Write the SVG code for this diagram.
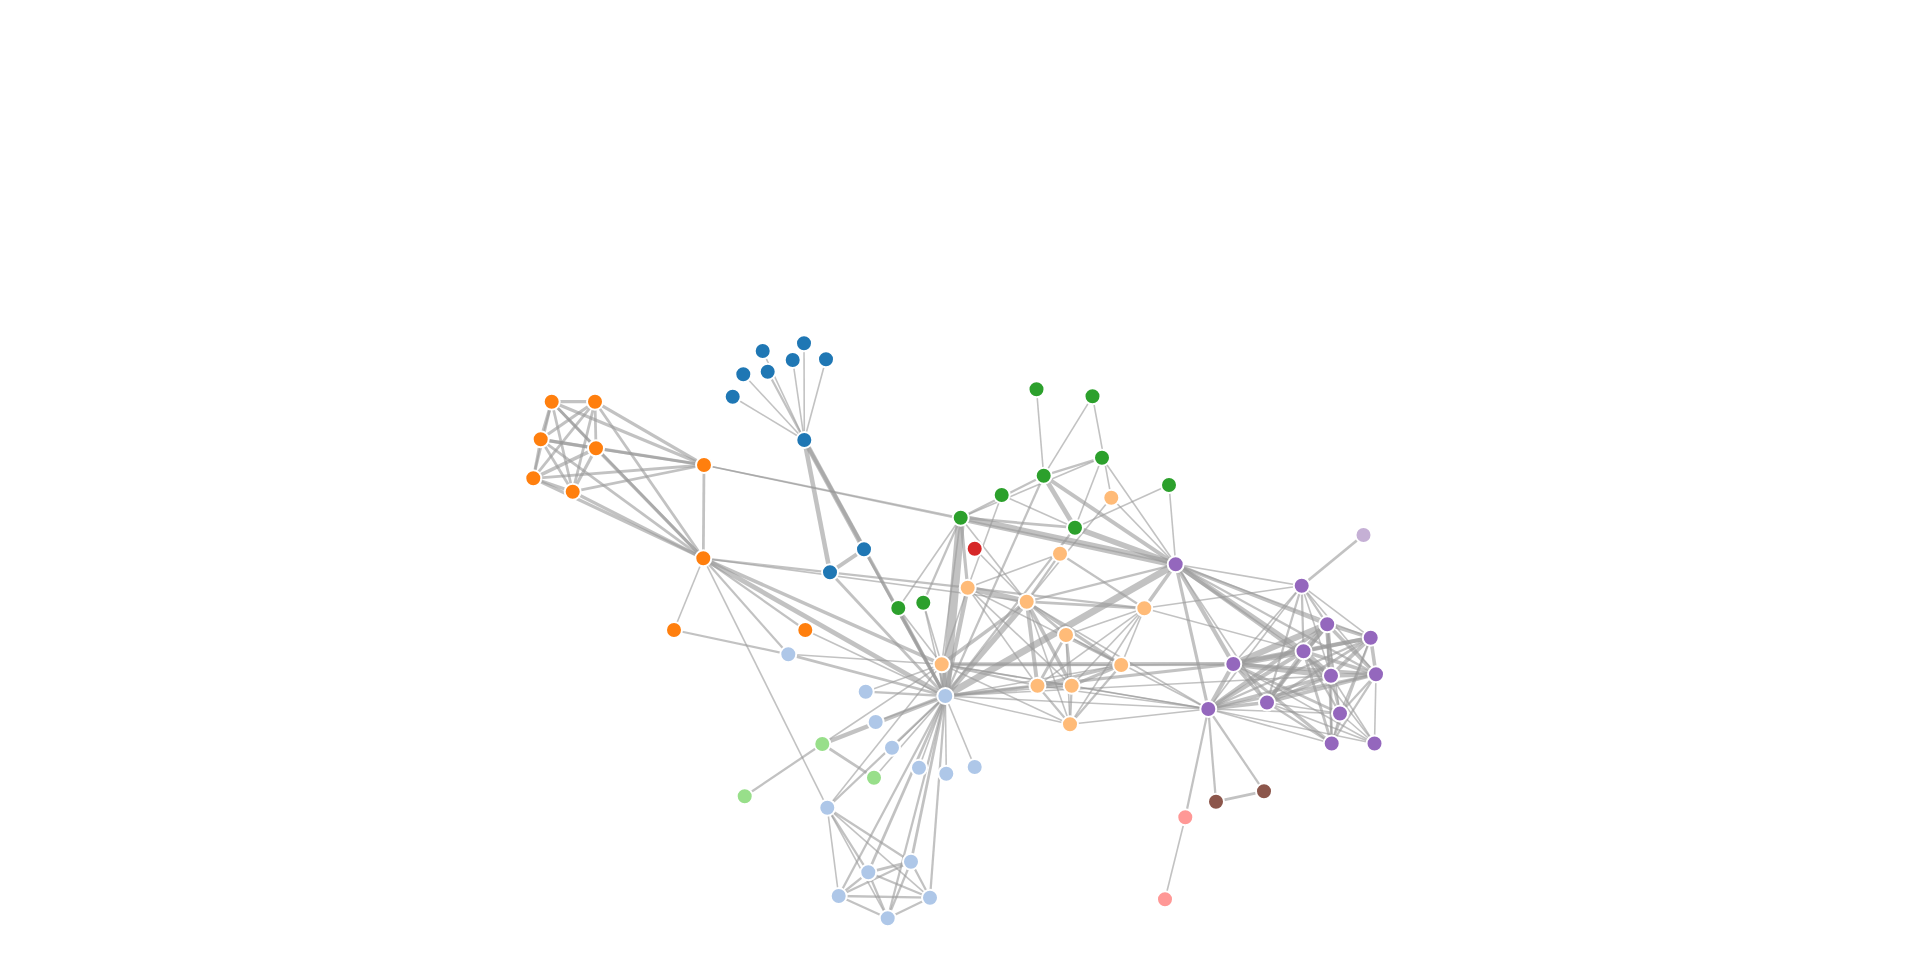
<svg xmlns="http://www.w3.org/2000/svg" width="1920" height="956" viewBox="0 0 1920 956">
<style>
.links line{stroke:#999;stroke-opacity:.6;fill:none}
.v1{stroke-width:1.6}.v2{stroke-width:2.26}.v3{stroke-width:2.77}.v4{stroke-width:3.2}.v5{stroke-width:3.58}.v6{stroke-width:3.92}.v7{stroke-width:4.23}.v8{stroke-width:4.53}.v9{stroke-width:4.8}.v10{stroke-width:5.06}.v12{stroke-width:5.54}.v13{stroke-width:5.77}.v15{stroke-width:6.2}.v17{stroke-width:6.6}.v19{stroke-width:6.97}.v21{stroke-width:7.33}.v31{stroke-width:8.91}
.node circle{stroke:#fff;stroke-width:2}
.g0{fill:#98df8a}.g1{fill:#1f77b4}.g2{fill:#aec7e8}.g3{fill:#ff7f0e}.g4{fill:#ffbb78}.g5{fill:#2ca02c}.g6{fill:#d62728}.g7{fill:#ff9896}.g8{fill:#9467bd}.g9{fill:#c5b0d5}.g10{fill:#8c564b}
</style>
<rect width="1920" height="956" fill="#fff"/>
<g id="links" class="links">
<line class="v1" x1="732.7" y1="396.7" x2="804.3" y2="440"/>
<line class="v8" x1="830" y1="572.3" x2="804.3" y2="440"/>
<line class="v10" x1="864" y1="549.3" x2="804.3" y2="440"/>
<line class="v6" x1="864" y1="549.3" x2="830" y2="572.3"/>
<line class="v1" x1="743.3" y1="374.3" x2="804.3" y2="440"/>
<line class="v1" x1="762.7" y1="351" x2="804.3" y2="440"/>
<line class="v1" x1="792.7" y1="360" x2="804.3" y2="440"/>
<line class="v1" x1="804" y1="343.3" x2="804.3" y2="440"/>
<line class="v2" x1="767.7" y1="371.7" x2="804.3" y2="440"/>
<line class="v1" x1="826" y1="359.3" x2="804.3" y2="440"/>
<line class="v1" x1="945.3" y1="696" x2="892" y2="747.7"/>
<line class="v3" x1="945.3" y1="696" x2="864" y2="549.3"/>
<line class="v3" x1="945.3" y1="696" x2="830" y2="572.3"/>
<line class="v5" x1="945.3" y1="696" x2="804.3" y2="440"/>
<line class="v1" x1="805.3" y1="630" x2="945.3" y2="696"/>
<line class="v1" x1="919" y1="767.7" x2="945.3" y2="696"/>
<line class="v1" x1="946.3" y1="773.7" x2="945.3" y2="696"/>
<line class="v1" x1="974.7" y1="767" x2="945.3" y2="696"/>
<line class="v4" x1="551.7" y1="401.7" x2="704" y2="465"/>
<line class="v4" x1="595" y1="401.7" x2="704" y2="465"/>
<line class="v4" x1="595" y1="401.7" x2="551.7" y2="401.7"/>
<line class="v4" x1="540.7" y1="439.3" x2="704" y2="465"/>
<line class="v4" x1="540.7" y1="439.3" x2="551.7" y2="401.7"/>
<line class="v4" x1="540.7" y1="439.3" x2="595" y2="401.7"/>
<line class="v3" x1="596" y1="448.3" x2="704" y2="465"/>
<line class="v3" x1="596" y1="448.3" x2="551.7" y2="401.7"/>
<line class="v3" x1="596" y1="448.3" x2="595" y2="401.7"/>
<line class="v4" x1="596" y1="448.3" x2="540.7" y2="439.3"/>
<line class="v3" x1="533.3" y1="478.3" x2="704" y2="465"/>
<line class="v3" x1="533.3" y1="478.3" x2="551.7" y2="401.7"/>
<line class="v3" x1="533.3" y1="478.3" x2="595" y2="401.7"/>
<line class="v3" x1="533.3" y1="478.3" x2="540.7" y2="439.3"/>
<line class="v5" x1="533.3" y1="478.3" x2="596" y2="448.3"/>
<line class="v3" x1="572.7" y1="491.7" x2="704" y2="465"/>
<line class="v3" x1="572.7" y1="491.7" x2="551.7" y2="401.7"/>
<line class="v3" x1="572.7" y1="491.7" x2="595" y2="401.7"/>
<line class="v3" x1="572.7" y1="491.7" x2="540.7" y2="439.3"/>
<line class="v4" x1="572.7" y1="491.7" x2="596" y2="448.3"/>
<line class="v4" x1="572.7" y1="491.7" x2="533.3" y2="478.3"/>
<line class="v3" x1="703.3" y1="558.3" x2="704" y2="465"/>
<line class="v3" x1="703.3" y1="558.3" x2="551.7" y2="401.7"/>
<line class="v3" x1="703.3" y1="558.3" x2="595" y2="401.7"/>
<line class="v3" x1="703.3" y1="558.3" x2="540.7" y2="439.3"/>
<line class="v4" x1="703.3" y1="558.3" x2="596" y2="448.3"/>
<line class="v4" x1="703.3" y1="558.3" x2="533.3" y2="478.3"/>
<line class="v4" x1="703.3" y1="558.3" x2="572.7" y2="491.7"/>
<line class="v2" x1="703.3" y1="558.3" x2="805.3" y2="630"/>
<line class="v9" x1="703.3" y1="558.3" x2="945.3" y2="696"/>
<line class="v2" x1="967.7" y1="587.7" x2="703.3" y2="558.3"/>
<line class="v7" x1="967.7" y1="587.7" x2="945.3" y2="696"/>
<line class="v13" x1="1026.7" y1="601.7" x2="967.7" y2="587.7"/>
<line class="v1" x1="1026.7" y1="601.7" x2="703.3" y2="558.3"/>
<line class="v12" x1="1026.7" y1="601.7" x2="945.3" y2="696"/>
<line class="v4" x1="960.7" y1="517.7" x2="967.7" y2="587.7"/>
<line class="v31" x1="960.7" y1="517.7" x2="945.3" y2="696"/>
<line class="v1" x1="960.7" y1="517.7" x2="704" y2="465"/>
<line class="v1" x1="960.7" y1="517.7" x2="1026.7" y2="601.7"/>
<line class="v17" x1="941.7" y1="664.3" x2="945.3" y2="696"/>
<line class="v5" x1="941.7" y1="664.3" x2="703.3" y2="558.3"/>
<line class="v5" x1="941.7" y1="664.3" x2="1026.7" y2="601.7"/>
<line class="v1" x1="941.7" y1="664.3" x2="967.7" y2="587.7"/>
<line class="v1" x1="941.7" y1="664.3" x2="960.7" y2="517.7"/>
<line class="v8" x1="822.3" y1="744" x2="945.3" y2="696"/>
<line class="v1" x1="822.3" y1="744" x2="941.7" y2="664.3"/>
<line class="v1" x1="827.3" y1="807.7" x2="703.3" y2="558.3"/>
<line class="v1" x1="827.3" y1="807.7" x2="941.7" y2="664.3"/>
<line class="v2" x1="827.3" y1="807.7" x2="945.3" y2="696"/>
<line class="v1" x1="674" y1="630" x2="703.3" y2="558.3"/>
<line class="v2" x1="788.3" y1="654.3" x2="674" y2="630"/>
<line class="v3" x1="788.3" y1="654.3" x2="945.3" y2="696"/>
<line class="v2" x1="788.3" y1="654.3" x2="703.3" y2="558.3"/>
<line class="v1" x1="788.3" y1="654.3" x2="941.7" y2="664.3"/>
<line class="v1" x1="875.7" y1="722" x2="945.3" y2="696"/>
<line class="v2" x1="865.7" y1="691.7" x2="945.3" y2="696"/>
<line class="v1" x1="865.7" y1="691.7" x2="941.7" y2="664.3"/>
<line class="v3" x1="868.3" y1="872.3" x2="945.3" y2="696"/>
<line class="v2" x1="868.3" y1="872.3" x2="827.3" y2="807.7"/>
<line class="v3" x1="911" y1="861.7" x2="945.3" y2="696"/>
<line class="v3" x1="911" y1="861.7" x2="868.3" y2="872.3"/>
<line class="v2" x1="911" y1="861.7" x2="827.3" y2="807.7"/>
<line class="v2" x1="838.7" y1="896" x2="868.3" y2="872.3"/>
<line class="v2" x1="838.7" y1="896" x2="911" y2="861.7"/>
<line class="v2" x1="838.7" y1="896" x2="945.3" y2="696"/>
<line class="v1" x1="838.7" y1="896" x2="827.3" y2="807.7"/>
<line class="v2" x1="930" y1="897.7" x2="868.3" y2="872.3"/>
<line class="v2" x1="930" y1="897.7" x2="911" y2="861.7"/>
<line class="v2" x1="930" y1="897.7" x2="838.7" y2="896"/>
<line class="v2" x1="930" y1="897.7" x2="945.3" y2="696"/>
<line class="v1" x1="930" y1="897.7" x2="827.3" y2="807.7"/>
<line class="v2" x1="887.7" y1="918.3" x2="868.3" y2="872.3"/>
<line class="v2" x1="887.7" y1="918.3" x2="911" y2="861.7"/>
<line class="v2" x1="887.7" y1="918.3" x2="838.7" y2="896"/>
<line class="v2" x1="887.7" y1="918.3" x2="930" y2="897.7"/>
<line class="v2" x1="887.7" y1="918.3" x2="945.3" y2="696"/>
<line class="v1" x1="887.7" y1="918.3" x2="827.3" y2="807.7"/>
<line class="v1" x1="1111.3" y1="497.7" x2="1026.7" y2="601.7"/>
<line class="v1" x1="974.7" y1="548.7" x2="1026.7" y2="601.7"/>
<line class="v2" x1="1144.3" y1="608.3" x2="967.7" y2="587.7"/>
<line class="v3" x1="1144.3" y1="608.3" x2="1026.7" y2="601.7"/>
<line class="v2" x1="1060" y1="553.7" x2="1144.3" y2="608.3"/>
<line class="v2" x1="1060" y1="553.7" x2="1026.7" y2="601.7"/>
<line class="v1" x1="1060" y1="553.7" x2="967.7" y2="587.7"/>
<line class="v3" x1="898.3" y1="608" x2="945.3" y2="696"/>
<line class="v1" x1="898.3" y1="608" x2="960.7" y2="517.7"/>
<line class="v1" x1="898.3" y1="608" x2="941.7" y2="664.3"/>
<line class="v3" x1="874" y1="777.7" x2="822.3" y2="744"/>
<line class="v1" x1="874" y1="777.7" x2="945.3" y2="696"/>
<line class="v2" x1="744.7" y1="796.3" x2="822.3" y2="744"/>
<line class="v1" x1="1185.3" y1="817.3" x2="1165" y2="899.3"/>
<line class="v2" x1="1208.3" y1="709" x2="1185.3" y2="817.3"/>
<line class="v1" x1="1208.3" y1="709" x2="1026.7" y2="601.7"/>
<line class="v1" x1="1208.3" y1="709" x2="941.7" y2="664.3"/>
<line class="v1" x1="1208.3" y1="709" x2="945.3" y2="696"/>
<line class="v3" x1="1075" y1="527.7" x2="960.7" y2="517.7"/>
<line class="v2" x1="1075" y1="527.7" x2="945.3" y2="696"/>
<line class="v1" x1="1001.7" y1="495" x2="1075" y2="527.7"/>
<line class="v1" x1="1001.7" y1="495" x2="967.7" y2="587.7"/>
<line class="v9" x1="1043.7" y1="475.7" x2="1075" y2="527.7"/>
<line class="v2" x1="1043.7" y1="475.7" x2="960.7" y2="517.7"/>
<line class="v2" x1="1043.7" y1="475.7" x2="945.3" y2="696"/>
<line class="v1" x1="1092.5" y1="396.3" x2="1043.7" y2="475.7"/>
<line class="v1" x1="1092.5" y1="396.3" x2="1111.3" y2="497.7"/>
<line class="v1" x1="1036.5" y1="389.3" x2="1043.7" y2="475.7"/>
<line class="v2" x1="1102" y1="457.7" x2="1043.7" y2="475.7"/>
<line class="v1" x1="1102" y1="457.7" x2="1075" y2="527.7"/>
<line class="v1" x1="1102" y1="457.7" x2="960.7" y2="517.7"/>
<line class="v6" x1="1175.7" y1="564.3" x2="1043.7" y2="475.7"/>
<line class="v12" x1="1175.7" y1="564.3" x2="1075" y2="527.7"/>
<line class="v1" x1="1175.7" y1="564.3" x2="1111.3" y2="497.7"/>
<line class="v1" x1="1175.7" y1="564.3" x2="1102" y2="457.7"/>
<line class="v21" x1="1175.7" y1="564.3" x2="960.7" y2="517.7"/>
<line class="v19" x1="1175.7" y1="564.3" x2="945.3" y2="696"/>
<line class="v1" x1="1175.7" y1="564.3" x2="704" y2="465"/>
<line class="v2" x1="1175.7" y1="564.3" x2="1026.7" y2="601.7"/>
<line class="v5" x1="1175.7" y1="564.3" x2="1144.3" y2="608.3"/>
<line class="v4" x1="1175.7" y1="564.3" x2="1208.3" y2="709"/>
<line class="v1" x1="1169" y1="485" x2="1075" y2="527.7"/>
<line class="v1" x1="1169" y1="485" x2="1175.7" y2="564.3"/>
<line class="v1" x1="1301.7" y1="585.7" x2="1175.7" y2="564.3"/>
<line class="v1" x1="1301.7" y1="585.7" x2="1144.3" y2="608.3"/>
<line class="v1" x1="1301.7" y1="585.7" x2="1208.3" y2="709"/>
<line class="v7" x1="1233.3" y1="664" x2="1175.7" y2="564.3"/>
<line class="v7" x1="1233.3" y1="664" x2="1208.3" y2="709"/>
<line class="v6" x1="1233.3" y1="664" x2="941.7" y2="664.3"/>
<line class="v1" x1="1233.3" y1="664" x2="1301.7" y2="585.7"/>
<line class="v4" x1="1233.3" y1="664" x2="945.3" y2="696"/>
<line class="v15" x1="1327.2" y1="624.3" x2="1233.3" y2="664"/>
<line class="v5" x1="1327.2" y1="624.3" x2="1175.7" y2="564.3"/>
<line class="v6" x1="1327.2" y1="624.3" x2="1208.3" y2="709"/>
<line class="v2" x1="1327.2" y1="624.3" x2="1301.7" y2="585.7"/>
<line class="v1" x1="1331.7" y1="743.5" x2="1208.3" y2="709"/>
<line class="v4" x1="1331.7" y1="743.5" x2="1233.3" y2="664"/>
<line class="v2" x1="1331.7" y1="743.5" x2="1327.2" y2="624.3"/>
<line class="v2" x1="1370.7" y1="637.7" x2="1208.3" y2="709"/>
<line class="v6" x1="1370.7" y1="637.7" x2="1233.3" y2="664"/>
<line class="v2" x1="1370.7" y1="637.7" x2="1331.7" y2="743.5"/>
<line class="v5" x1="1370.7" y1="637.7" x2="1327.2" y2="624.3"/>
<line class="v1" x1="1370.7" y1="637.7" x2="1301.7" y2="585.7"/>
<line class="v1" x1="1370.7" y1="637.7" x2="1175.7" y2="564.3"/>
<line class="v9" x1="1303.5" y1="651.3" x2="1175.7" y2="564.3"/>
<line class="v17" x1="1303.5" y1="651.3" x2="1233.3" y2="664"/>
<line class="v13" x1="1303.5" y1="651.3" x2="1327.2" y2="624.3"/>
<line class="v7" x1="1303.5" y1="651.3" x2="1208.3" y2="709"/>
<line class="v2" x1="1303.5" y1="651.3" x2="1301.7" y2="585.7"/>
<line class="v1" x1="1303.5" y1="651.3" x2="1144.3" y2="608.3"/>
<line class="v6" x1="1303.5" y1="651.3" x2="1370.7" y2="637.7"/>
<line class="v3" x1="1303.5" y1="651.3" x2="1331.7" y2="743.5"/>
<line class="v5" x1="1267" y1="702.5" x2="1327.2" y2="624.3"/>
<line class="v5" x1="1267" y1="702.5" x2="1208.3" y2="709"/>
<line class="v6" x1="1267" y1="702.5" x2="1303.5" y2="651.3"/>
<line class="v2" x1="1267" y1="702.5" x2="1301.7" y2="585.7"/>
<line class="v4" x1="1267" y1="702.5" x2="1233.3" y2="664"/>
<line class="v3" x1="1267" y1="702.5" x2="1370.7" y2="637.7"/>
<line class="v2" x1="1267" y1="702.5" x2="1331.7" y2="743.5"/>
<line class="v1" x1="1267" y1="702.5" x2="1175.7" y2="564.3"/>
<line class="v5" x1="1331" y1="675.7" x2="1175.7" y2="564.3"/>
<line class="v12" x1="1331" y1="675.7" x2="1303.5" y2="651.3"/>
<line class="v5" x1="1331" y1="675.7" x2="1208.3" y2="709"/>
<line class="v4" x1="1331" y1="675.7" x2="1267" y2="702.5"/>
<line class="v10" x1="1331" y1="675.7" x2="1233.3" y2="664"/>
<line class="v6" x1="1331" y1="675.7" x2="1370.7" y2="637.7"/>
<line class="v2" x1="1331" y1="675.7" x2="1331.7" y2="743.5"/>
<line class="v9" x1="1331" y1="675.7" x2="1327.2" y2="624.3"/>
<line class="v1" x1="1331" y1="675.7" x2="1301.7" y2="585.7"/>
<line class="v1" x1="1331" y1="675.7" x2="945.3" y2="696"/>
<line class="v5" x1="1376" y1="674.3" x2="1267" y2="702.5"/>
<line class="v7" x1="1376" y1="674.3" x2="1331" y2="675.7"/>
<line class="v3" x1="1376" y1="674.3" x2="1208.3" y2="709"/>
<line class="v5" x1="1376" y1="674.3" x2="1303.5" y2="651.3"/>
<line class="v5" x1="1376" y1="674.3" x2="1233.3" y2="664"/>
<line class="v5" x1="1376" y1="674.3" x2="1370.7" y2="637.7"/>
<line class="v2" x1="1376" y1="674.3" x2="1331.7" y2="743.5"/>
<line class="v5" x1="1376" y1="674.3" x2="1327.2" y2="624.3"/>
<line class="v1" x1="1376" y1="674.3" x2="1301.7" y2="585.7"/>
<line class="v2" x1="1376" y1="674.3" x2="1175.7" y2="564.3"/>
<line class="v3" x1="1340" y1="713.5" x2="1331" y2="675.7"/>
<line class="v3" x1="1340" y1="713.5" x2="1233.3" y2="664"/>
<line class="v1" x1="1340" y1="713.5" x2="1327.2" y2="624.3"/>
<line class="v2" x1="1340" y1="713.5" x2="1303.5" y2="651.3"/>
<line class="v2" x1="1340" y1="713.5" x2="1376" y2="674.3"/>
<line class="v1" x1="1340" y1="713.5" x2="1208.3" y2="709"/>
<line class="v1" x1="1340" y1="713.5" x2="1267" y2="702.5"/>
<line class="v1" x1="1340" y1="713.5" x2="1370.7" y2="637.7"/>
<line class="v1" x1="1340" y1="713.5" x2="1331.7" y2="743.5"/>
<line class="v3" x1="1363.5" y1="535" x2="1301.7" y2="585.7"/>
<line class="v5" x1="1071.7" y1="685.7" x2="1026.7" y2="601.7"/>
<line class="v1" x1="1071.7" y1="685.7" x2="945.3" y2="696"/>
<line class="v1" x1="1071.7" y1="685.7" x2="967.7" y2="587.7"/>
<line class="v1" x1="1071.7" y1="685.7" x2="941.7" y2="664.3"/>
<line class="v1" x1="1071.7" y1="685.7" x2="1208.3" y2="709"/>
<line class="v1" x1="1071.7" y1="685.7" x2="1144.3" y2="608.3"/>
<line class="v6" x1="1037.5" y1="685.7" x2="1026.7" y2="601.7"/>
<line class="v6" x1="1037.5" y1="685.7" x2="1071.7" y2="685.7"/>
<line class="v1" x1="1037.5" y1="685.7" x2="945.3" y2="696"/>
<line class="v1" x1="1037.5" y1="685.7" x2="967.7" y2="587.7"/>
<line class="v2" x1="1037.5" y1="685.7" x2="941.7" y2="664.3"/>
<line class="v1" x1="1037.5" y1="685.7" x2="1208.3" y2="709"/>
<line class="v1" x1="1037.5" y1="685.7" x2="1144.3" y2="608.3"/>
<line class="v4" x1="1121.2" y1="665" x2="1026.7" y2="601.7"/>
<line class="v4" x1="1121.2" y1="665" x2="1037.5" y2="685.7"/>
<line class="v4" x1="1121.2" y1="665" x2="1071.7" y2="685.7"/>
<line class="v1" x1="1121.2" y1="665" x2="945.3" y2="696"/>
<line class="v1" x1="1121.2" y1="665" x2="967.7" y2="587.7"/>
<line class="v1" x1="1121.2" y1="665" x2="941.7" y2="664.3"/>
<line class="v1" x1="1121.2" y1="665" x2="1144.3" y2="608.3"/>
<line class="v1" x1="1121.2" y1="665" x2="1233.3" y2="664"/>
<line class="v1" x1="1070" y1="724.3" x2="941.7" y2="664.3"/>
<line class="v2" x1="1070" y1="724.3" x2="1037.5" y2="685.7"/>
<line class="v2" x1="1070" y1="724.3" x2="1071.7" y2="685.7"/>
<line class="v2" x1="1070" y1="724.3" x2="1121.2" y2="665"/>
<line class="v1" x1="1070" y1="724.3" x2="945.3" y2="696"/>
<line class="v1" x1="1070" y1="724.3" x2="1208.3" y2="709"/>
<line class="v1" x1="1070" y1="724.3" x2="1144.3" y2="608.3"/>
<line class="v1" x1="1070" y1="724.3" x2="1026.7" y2="601.7"/>
<line class="v2" x1="923.3" y1="602.7" x2="960.7" y2="517.7"/>
<line class="v1" x1="923.3" y1="602.7" x2="941.7" y2="664.3"/>
<line class="v1" x1="923.3" y1="602.7" x2="945.3" y2="696"/>
<line class="v2" x1="1216" y1="801.7" x2="1208.3" y2="709"/>
<line class="v2" x1="1264" y1="791.3" x2="1208.3" y2="709"/>
<line class="v3" x1="1264" y1="791.3" x2="1216" y2="801.7"/>
<line class="v3" x1="1066" y1="635" x2="1037.5" y2="685.7"/>
<line class="v3" x1="1066" y1="635" x2="1071.7" y2="685.7"/>
<line class="v3" x1="1066" y1="635" x2="1026.7" y2="601.7"/>
<line class="v1" x1="1066" y1="635" x2="1208.3" y2="709"/>
<line class="v1" x1="1066" y1="635" x2="1144.3" y2="608.3"/>
<line class="v1" x1="1066" y1="635" x2="1121.2" y2="665"/>
<line class="v1" x1="1066" y1="635" x2="1070" y2="724.3"/>
<line class="v1" x1="1374.5" y1="743.5" x2="1331" y2="675.7"/>
<line class="v1" x1="1374.5" y1="743.5" x2="1376" y2="674.3"/>
<line class="v1" x1="1374.5" y1="743.5" x2="1340" y2="713.5"/>
<line class="v1" x1="1374.5" y1="743.5" x2="1267" y2="702.5"/>
<line class="v1" x1="1374.5" y1="743.5" x2="1303.5" y2="651.3"/>
<line class="v1" x1="1374.5" y1="743.5" x2="1208.3" y2="709"/>
<line class="v1" x1="1374.5" y1="743.5" x2="1233.3" y2="664"/>
</g>
<g id="nodes">
<g id="Myriel" class="node"><circle class="g1" cx="804.3" cy="440" r="8"/></g>
<g id="Napoleon" class="node"><circle class="g1" cx="732.7" cy="396.7" r="8"/></g>
<g id="Mlle-Baptistine" class="node"><circle class="g1" cx="830" cy="572.3" r="8"/></g>
<g id="Mme-Magloire" class="node"><circle class="g1" cx="864" cy="549.3" r="8"/></g>
<g id="CountessdeLo" class="node"><circle class="g1" cx="743.3" cy="374.3" r="8"/></g>
<g id="Geborand" class="node"><circle class="g1" cx="762.7" cy="351" r="8"/></g>
<g id="Champtercier" class="node"><circle class="g1" cx="792.7" cy="360" r="8"/></g>
<g id="Cravatte" class="node"><circle class="g1" cx="804" cy="343.3" r="8"/></g>
<g id="Count" class="node"><circle class="g1" cx="767.7" cy="371.7" r="8"/></g>
<g id="OldMan" class="node"><circle class="g1" cx="826" cy="359.3" r="8"/></g>
<g id="Labarre" class="node"><circle class="g2" cx="892" cy="747.7" r="8"/></g>
<g id="Valjean" class="node"><circle class="g2" cx="945.3" cy="696" r="8"/></g>
<g id="Marguerite" class="node"><circle class="g3" cx="805.3" cy="630" r="8"/></g>
<g id="Mme-deR" class="node"><circle class="g2" cx="919" cy="767.7" r="8"/></g>
<g id="Isabeau" class="node"><circle class="g2" cx="946.3" cy="773.7" r="8"/></g>
<g id="Gervais" class="node"><circle class="g2" cx="974.7" cy="767" r="8"/></g>
<g id="Tholomyes" class="node"><circle class="g3" cx="704" cy="465" r="8"/></g>
<g id="Listolier" class="node"><circle class="g3" cx="551.7" cy="401.7" r="8"/></g>
<g id="Fameuil" class="node"><circle class="g3" cx="595" cy="401.7" r="8"/></g>
<g id="Blacheville" class="node"><circle class="g3" cx="540.7" cy="439.3" r="8"/></g>
<g id="Favourite" class="node"><circle class="g3" cx="596" cy="448.3" r="8"/></g>
<g id="Dahlia" class="node"><circle class="g3" cx="533.3" cy="478.3" r="8"/></g>
<g id="Zephine" class="node"><circle class="g3" cx="572.7" cy="491.7" r="8"/></g>
<g id="Fantine" class="node"><circle class="g3" cx="703.3" cy="558.3" r="8"/></g>
<g id="Mme-Thenardier" class="node"><circle class="g4" cx="967.7" cy="587.7" r="8"/></g>
<g id="Thenardier" class="node"><circle class="g4" cx="1026.7" cy="601.7" r="8"/></g>
<g id="Cosette" class="node"><circle class="g5" cx="960.7" cy="517.7" r="8"/></g>
<g id="Javert" class="node"><circle class="g4" cx="941.7" cy="664.3" r="8"/></g>
<g id="Fauchelevent" class="node"><circle class="g0" cx="822.3" cy="744" r="8"/></g>
<g id="Bamatabois" class="node"><circle class="g2" cx="827.3" cy="807.7" r="8"/></g>
<g id="Perpetue" class="node"><circle class="g3" cx="674" cy="630" r="8"/></g>
<g id="Simplice" class="node"><circle class="g2" cx="788.3" cy="654.3" r="8"/></g>
<g id="Scaufflaire" class="node"><circle class="g2" cx="875.7" cy="722" r="8"/></g>
<g id="Woman1" class="node"><circle class="g2" cx="865.7" cy="691.7" r="8"/></g>
<g id="Judge" class="node"><circle class="g2" cx="868.3" cy="872.3" r="8"/></g>
<g id="Champmathieu" class="node"><circle class="g2" cx="911" cy="861.7" r="8"/></g>
<g id="Brevet" class="node"><circle class="g2" cx="838.7" cy="896" r="8"/></g>
<g id="Chenildieu" class="node"><circle class="g2" cx="930" cy="897.7" r="8"/></g>
<g id="Cochepaille" class="node"><circle class="g2" cx="887.7" cy="918.3" r="8"/></g>
<g id="Pontmercy" class="node"><circle class="g4" cx="1111.3" cy="497.7" r="8"/></g>
<g id="Boulatruelle" class="node"><circle class="g6" cx="974.7" cy="548.7" r="8"/></g>
<g id="Eponine" class="node"><circle class="g4" cx="1144.3" cy="608.3" r="8"/></g>
<g id="Anzelma" class="node"><circle class="g4" cx="1060" cy="553.7" r="8"/></g>
<g id="Woman2" class="node"><circle class="g5" cx="898.3" cy="608" r="8"/></g>
<g id="MotherInnocent" class="node"><circle class="g0" cx="874" cy="777.7" r="8"/></g>
<g id="Gribier" class="node"><circle class="g0" cx="744.7" cy="796.3" r="8"/></g>
<g id="Jondrette" class="node"><circle class="g7" cx="1165" cy="899.3" r="8"/></g>
<g id="Mme-Burgon" class="node"><circle class="g7" cx="1185.3" cy="817.3" r="8"/></g>
<g id="Gavroche" class="node"><circle class="g8" cx="1208.3" cy="709" r="8"/></g>
<g id="Gillenormand" class="node"><circle class="g5" cx="1075" cy="527.7" r="8"/></g>
<g id="Magnon" class="node"><circle class="g5" cx="1001.7" cy="495" r="8"/></g>
<g id="Mlle-Gillenormand" class="node"><circle class="g5" cx="1043.7" cy="475.7" r="8"/></g>
<g id="Mme-Pontmercy" class="node"><circle class="g5" cx="1092.5" cy="396.3" r="8"/></g>
<g id="Mlle-Vaubois" class="node"><circle class="g5" cx="1036.5" cy="389.3" r="8"/></g>
<g id="Lt-Gillenormand" class="node"><circle class="g5" cx="1102" cy="457.7" r="8"/></g>
<g id="Marius" class="node"><circle class="g8" cx="1175.7" cy="564.3" r="8"/></g>
<g id="BaronessT" class="node"><circle class="g5" cx="1169" cy="485" r="8"/></g>
<g id="Mabeuf" class="node"><circle class="g8" cx="1301.7" cy="585.7" r="8"/></g>
<g id="Enjolras" class="node"><circle class="g8" cx="1233.3" cy="664" r="8"/></g>
<g id="Combeferre" class="node"><circle class="g8" cx="1327.2" cy="624.3" r="8"/></g>
<g id="Prouvaire" class="node"><circle class="g8" cx="1331.7" cy="743.5" r="8"/></g>
<g id="Feuilly" class="node"><circle class="g8" cx="1370.7" cy="637.7" r="8"/></g>
<g id="Courfeyrac" class="node"><circle class="g8" cx="1303.5" cy="651.3" r="8"/></g>
<g id="Bahorel" class="node"><circle class="g8" cx="1267" cy="702.5" r="8"/></g>
<g id="Bossuet" class="node"><circle class="g8" cx="1331" cy="675.7" r="8"/></g>
<g id="Joly" class="node"><circle class="g8" cx="1376" cy="674.3" r="8"/></g>
<g id="Grantaire" class="node"><circle class="g8" cx="1340" cy="713.5" r="8"/></g>
<g id="MotherPlutarch" class="node"><circle class="g9" cx="1363.5" cy="535" r="8"/></g>
<g id="Gueulemer" class="node"><circle class="g4" cx="1071.7" cy="685.7" r="8"/></g>
<g id="Babet" class="node"><circle class="g4" cx="1037.5" cy="685.7" r="8"/></g>
<g id="Claquesous" class="node"><circle class="g4" cx="1121.2" cy="665" r="8"/></g>
<g id="Montparnasse" class="node"><circle class="g4" cx="1070" cy="724.3" r="8"/></g>
<g id="Toussaint" class="node"><circle class="g5" cx="923.3" cy="602.7" r="8"/></g>
<g id="Child1" class="node"><circle class="g10" cx="1216" cy="801.7" r="8"/></g>
<g id="Child2" class="node"><circle class="g10" cx="1264" cy="791.3" r="8"/></g>
<g id="Brujon" class="node"><circle class="g4" cx="1066" cy="635" r="8"/></g>
<g id="Mme-Hucheloup" class="node"><circle class="g8" cx="1374.5" cy="743.5" r="8"/></g>
</g>
</svg>
